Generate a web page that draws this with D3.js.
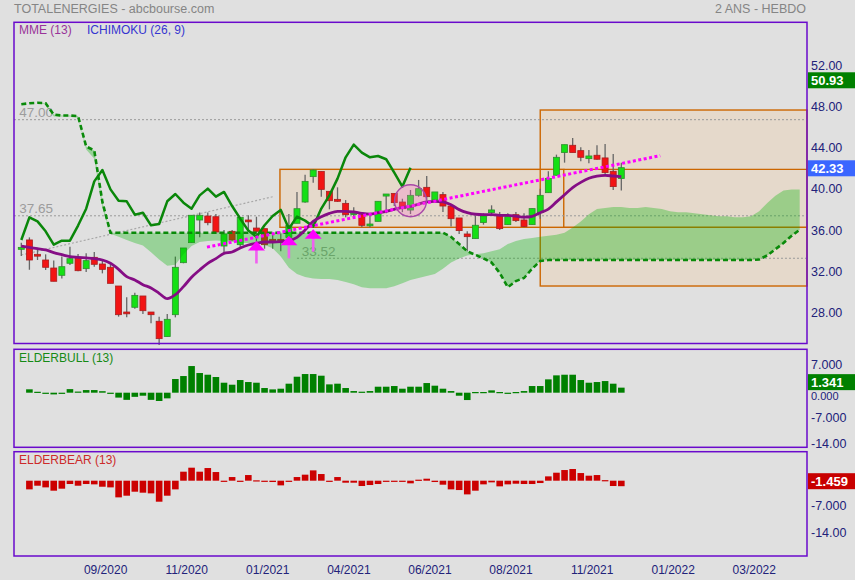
<!DOCTYPE html>
<html><head><meta charset="utf-8">
<script src="https://cdn.jsdelivr.net/npm/d3@7"></script>
<style>
html,body{margin:0;padding:0;background:#e0e0e0;}
svg{display:block;font-family:Arial,"Liberation Sans",sans-serif;}
</style></head><body>
<svg id="c" width="855" height="580"></svg>
<script>
// ---------- DATA ----------
const opens  = [34.39,35.3,33.9,33.35,32.57,31.86,33.03,33.61,32.51,33.61,32.96,32.64,30.82,28.29,28.75,29.85,28.29,27.39,25.9,28.03,33.09,35.04,37.24,37.63,37.56,34.71,36.14,34.84,37.24,36.46,36.4,35.36,35.36,35.55,36.92,38.99,41.46,41.97,40.03,39.25,38.86,37.83,37.76,36.72,37.11,39.57,39.83,38.99,38.21,39.64,40.42,39.19,39.71,38.6,37.44,35.88,35.43,36.99,37.96,37.7,36.79,37.76,37.24,36.79,37.96,39.9,41.59,43.8,44.51,43.99,43.21,43.54,43.28,41.98,41.27];
const highs  = [35.04,35.55,34.33,33.9,33.29,33.68,34.65,33.94,34.0,34.13,33.35,32.96,30.82,29.72,30.17,29.85,28.29,27.84,28.1,33.68,34.52,37.7,37.96,37.96,37.82,36.27,36.27,37.5,37.7,37.56,36.4,35.94,35.9,37.82,39.96,41.65,42.17,41.97,40.03,40.42,39.18,38.47,38.02,37.82,39.06,39.77,39.83,39.31,40.16,41.14,41.53,39.97,39.97,38.6,37.44,36.14,37.63,37.89,38.67,38.02,37.89,38.02,37.89,38.35,40.29,41.98,43.6,44.57,45.22,44.31,44.05,44.51,44.64,43.67,42.82];
const lows   = [33.74,32.4,33.35,32.38,31.28,31.54,32.87,32.25,32.18,32.7,32.05,31.08,27.84,27.77,28.62,28.1,27.19,25.08,25.9,27.77,33.03,35.04,35.56,36.72,35.88,34.0,35.23,34.45,36.3,34.32,34.45,34.45,34.2,33.67,36.92,38.93,40.87,39.51,38.28,39.0,37.5,37.56,36.53,36.5,37.11,37.89,38.6,38.0,37.82,39.5,39.19,39.19,38.02,36.6,35.88,34.2,35.43,36.79,37.7,36.27,36.79,37.05,36.53,36.79,37.37,39.9,41.59,42.82,43.8,42.95,42.76,43.1,41.72,40.16,40.1];
const closes = [34.58,33.35,33.8,32.64,31.28,32.7,33.48,32.31,33.29,32.93,32.44,31.08,28.03,28.16,29.91,28.42,28.03,25.7,27.58,32.64,34.52,37.7,37.7,36.98,36.07,35.88,35.3,37.5,37.11,36.14,34.84,35.23,35.23,36.7,38.34,41.0,42.1,40.22,39.12,39.06,37.76,37.95,36.72,36.85,39.06,39.77,38.93,38.34,39.64,40.29,39.51,39.97,38.6,37.37,36.21,35.62,36.73,37.63,38.22,36.4,37.57,37.18,36.6,38.35,39.64,41.27,43.34,44.57,43.8,43.34,43.47,43.15,41.85,40.49,42.33];
const ema13  = [34.71,34.58,34.45,34.33,34.07,33.87,33.68,33.61,33.55,33.48,33.35,33.03,32.44,31.73,31.41,30.95,30.63,30.11,29.59,29.98,30.76,31.67,32.38,33.03,33.48,34.0,34.13,34.52,34.81,34.97,35.1,35.1,35.13,35.23,35.55,36.27,37.11,37.56,37.89,38.08,38.08,38.02,37.89,37.82,37.95,38.08,38.28,38.47,38.55,38.8,39.0,39.06,39.0,38.72,38.25,37.95,37.8,37.76,37.76,37.7,37.7,37.62,37.52,37.6,37.95,38.3,39.0,39.7,40.4,40.9,41.3,41.5,41.58,41.52,41.46];
const senkouB = [48.5,48.6,48.65,48.6,47.5,47.4,47.4,47.35,44.4,44.0,39.0,
  36.0,36.0,36.0,36.0,36.0,36.0,36.0,36.0,36.0,36.0,36.0,36.0,36.0,36.0,36.0,36.0,36.0,36.0,36.0,36.0,36.0,
  36.0,36.0,36.0,36.0,36.0,36.0,36.0,36.0,36.0,36.0,36.0,36.0,36.0,36.0,36.0,36.0,36.0,36.0,36.0,36.0,36.0,
  35.6,34.9,34.2,33.85,33.5,33.1,32.1,30.7,31.3,31.6,32.5,33.25,
  33.35,33.35,33.35,33.35,33.35,33.35,33.35,33.35,33.35,33.35,33.35,33.35,33.35,33.35,33.35,33.35,33.35,33.35,33.35,33.35,33.35,33.35,33.35,33.35,33.35,33.35,
  33.4,33.8,34.4,35.0,35.7,36.3];
const senkouA = [48.5,48.6,48.65,48.5,47.3,47.3,47.3,47.2,44.1,43.2,38.4,35.9,35.6,35.3,35.0,34.75,34.1,33.4,32.8,32.9,33.9,34.7,35.1,35.2,35.25,35.2,35.1,35.0,35.0,34.95,34.8,34.5,33.7,32.6,32.0,31.7,31.55,31.5,31.5,31.4,31.2,31.0,30.7,30.6,30.6,30.6,30.8,31.1,31.4,31.6,31.8,32.0,32.5,33.1,33.5,33.8,33.9,34.0,34.2,34.4,34.9,35.2,35.4,35.5,35.6,35.7,35.8,36.0,36.5,37.1,37.8,38.3,38.4,38.5,38.5,38.4,38.4,38.5,38.4,38.3,38.1,38.0,38.0,37.9,37.8,37.7,37.6,37.6,37.5,37.5,37.6,38.1,38.9,39.6,40.1,40.2,40.2];
const elderBull = [null,0.9,0.25,-0.25,-0.45,-0.2,0.95,0.3,0.7,0.7,0.4,0,-1.3,-1.9,-1.1,-0.8,-1.9,-2.2,-1.5,3.63,4.42,7.07,5.22,4.77,4.16,2.65,2.12,3.36,2.83,2.65,1.24,0.88,1.06,2.39,4.24,4.95,4.95,4.51,2.21,2.39,1.24,0.44,0.27,0.44,1.59,1.59,1.77,1.06,1.59,1.59,2.56,1.86,1.06,0.44,-0.8,-1.95,0.18,0.18,0.62,0.18,0,0.18,0.44,1.77,1.77,3.54,4.6,4.77,4.77,3.36,2.65,2.83,3.09,2.39,1.341];
const elderBear = [null,-2.3,-1.33,-1.77,-2.65,-2.12,-0.88,-1.33,-0.88,-0.97,-1.6,-1.77,-4.42,-3.98,-2.92,-3.18,-3.36,-5.57,-3.98,-2.3,2.39,3.45,2.39,3.36,2.3,0,0.97,-0.2,1.5,0.1,-0.2,-0.35,-1.24,-0.2,0.97,1.6,2.74,1.77,0,0.97,-0.53,-0.53,-1.41,-1.15,-0.88,-0.18,-0.27,-0.27,-0.7,0.27,0.53,-0.35,-1.06,-2.3,-2.48,-3.63,-2.65,-0.97,-0.44,-1.5,-0.97,-0.8,-0.88,-0.88,-0.62,1.15,2.12,2.83,3.1,2.03,1.33,1.5,0.15,-1.41,-1.459];
const chikouShift = 26;
const priceTicks = [52,48,44,40,36,32,28];
const bullTicks = [7,0,-7,-14];
const bearTicks = [-7,-14];
const xTickIndex = [10,20,30,40,50,60,70,80,90];
const xTickLabels = ["09/2020","11/2020","01/2021","04/2021","06/2021","08/2021","11/2021","01/2022","03/2022"];
const levelValues = [47.00,37.65,33.52];
const levelStart = [-0.9,-0.9,34];
const boxes = [{from:31.9,to:66.9,hi:42.17,lo:36.53},{from:64,to:96.9,hi:47.94,lo:30.82}];
const grayTrend = [[0,33.84],[31,39.5]];
const magentaTrend = [[22.9,34.6],[78.8,43.5]];
const arrowIdx = [29,33,36];
const arrowPrice = [35.2,35.7,36.35];
const circleIdx = 48, circlePrice = 39.11;
const lastMain = 50.93, lastClose = 42.33, lastBull = 1.341, lastBear = -1.459;

// ---------- LAYOUT ----------
const W=855,H=580, PL=14, PR=807;
const mainP={top:22.3,bottom:343.5}, p1={top:349.3,bottom:447.3}, p2={top:451.7,bottom:556};
const svg=d3.select("#c");
svg.append("rect").attr("width",W).attr("height",H).attr("fill","#e0e0e0");

const x=d3.scaleLinear().domain([-0.9,96.9]).range([PL,PR]);
const y=d3.scaleLinear().domain([28,48]).range([315,109.4]);
const yBull=d3.scaleLinear().domain([-14,7]).range([392.7+14*3.77,392.7-7*3.77]);
const yBear=d3.scaleLinear().domain([-14,7]).range([480.7+14*3.77,480.7-7*3.77]);
const idx=d3.range(closes.length);
const axisColor="#22227a";

// ---------- MAIN PANEL ----------
const g=svg.append("g");
boxes.slice().reverse().forEach(b=>{
  g.append("rect").attr("x",x(b.from)).attr("y",y(b.hi)).attr("width",x(b.to)-x(b.from)).attr("height",y(b.lo)-y(b.hi))
   .attr("fill","#e5d9cb");
});
boxes.forEach(b=>{
  g.append("rect").attr("x",x(b.from)).attr("y",y(b.hi)).attr("width",x(b.to)-x(b.from)).attr("height",y(b.lo)-y(b.hi))
   .attr("fill","none").attr("stroke","#cc6600").attr("stroke-width",1.4);
});
[boxes[0].hi,boxes[0].lo].forEach(v=>{
  g.append("line").attr("x1",x(boxes[0].to)).attr("x2",PR).attr("y1",y(v)).attr("y2",y(v))
   .attr("stroke","#cc6600").attr("stroke-width",1.4);
});
levelValues.forEach((v,k)=>{
  g.append("line").attr("x1",x(levelStart[k])).attr("x2",PR).attr("y1",y(v)).attr("y2",y(v))
   .attr("stroke","#999").attr("stroke-width",1).attr("stroke-dasharray","2,2");
  g.append("text").attr("x",x(levelStart[k])+(k==2?4.7:5.3)).attr("y",y(v)-2.3).attr("font-size",13.5)
   .attr("fill","#9c9c9c").text(v.toFixed(2));
});
g.append("line").attr("x1",x(grayTrend[0][0])).attr("y1",y(grayTrend[0][1])).attr("x2",x(grayTrend[1][0])).attr("y2",y(grayTrend[1][1]))
  .attr("stroke","#a8a8a8").attr("stroke-width",1.2).attr("stroke-dasharray","2,2");

const cg=g.append("g");
idx.forEach(i=>{
  const up=closes[i]>=opens[i];
  cg.append("line").attr("x1",x(i)).attr("x2",x(i)).attr("y1",y(highs[i])).attr("y2",y(lows[i]))
    .attr("stroke","#666").attr("stroke-width",1.3);
  const top=y(Math.max(opens[i],closes[i])), bot=y(Math.min(opens[i],closes[i]));
  cg.append("rect").attr("x",x(i)-3).attr("width",6).attr("y",top).attr("height",Math.max(1.8,bot-top))
    .attr("fill",up?"#14e014":"#f21414").attr("stroke",up?"#2e8f2e":"#a82020").attr("stroke-width",0.8);
});

const cidx=d3.range(senkouB.length);
g.append("path").datum(cidx).attr("d",d3.area().x(i=>x(i)).y0(i=>y(senkouA[i])).y1(i=>y(senkouB[i])))
  .attr("fill","#00b400").attr("fill-opacity",0.32);
g.append("path").datum(cidx).attr("d",d3.line().x(i=>x(i)).y(i=>y(senkouB[i])))
  .attr("fill","none").attr("stroke","#0a8a0a").attr("stroke-width",2.6).attr("stroke-dasharray","5,3");
const chIdx=d3.range(closes.length-chikouShift);
g.append("path").datum(chIdx).attr("d",d3.line().x(i=>x(i)).y(i=>y(closes[i+chikouShift])))
  .attr("fill","none").attr("stroke","#0a870a").attr("stroke-width",2.5).attr("stroke-linejoin","round");
g.append("path").datum(idx).attr("d",d3.line().curve(d3.curveMonotoneX).x(i=>x(i)).y(i=>y(ema13[i])))
  .attr("fill","none").attr("stroke","#850d85").attr("stroke-width",2.8);
g.append("line").attr("x1",x(magentaTrend[0][0])).attr("y1",y(magentaTrend[0][1])).attr("x2",x(magentaTrend[1][0])).attr("y2",y(magentaTrend[1][1]))
  .attr("stroke","#ff00ff").attr("stroke-width",3).attr("stroke-dasharray","3,2.5");
arrowIdx.forEach((ai,k)=>{
  const ax=x(ai), ay=y(arrowPrice[k]);
  g.append("line").attr("x1",ax).attr("x2",ax).attr("y1",ay+8).attr("y2",ay+22.5)
    .attr("stroke","#f060f0").attr("stroke-width",2.6);
  g.append("path").attr("d",`M${ax},${ay}L${ax+8.5},${ay+9.5}L${ax-8.5},${ay+9.5}Z`).attr("fill","#ff00ff");
});
g.append("circle").attr("cx",x(circleIdx)).attr("cy",y(circlePrice)).attr("r",16)
  .attr("fill","#ff66cc").attr("fill-opacity",0.25).attr("stroke","#a848a8").attr("stroke-width",1.4);

// ---------- LOWER PANELS ----------
const bw=6.6;
svg.append("g").selectAll("rect").data(idx.filter(i=>elderBull[i]!==null)).join("rect")
  .attr("x",i=>x(i)-bw/2).attr("width",bw)
  .attr("y",i=>Math.min(yBull(0),yBull(elderBull[i]))).attr("height",i=>Math.max(1.2,Math.abs(yBull(elderBull[i])-yBull(0))))
  .attr("fill","#008000");
svg.append("g").selectAll("rect").data(idx.filter(i=>elderBear[i]!==null)).join("rect")
  .attr("x",i=>x(i)-bw/2).attr("width",bw)
  .attr("y",i=>Math.min(yBear(0),yBear(elderBear[i]))).attr("height",i=>Math.max(1.2,Math.abs(yBear(elderBear[i])-yBear(0))))
  .attr("fill","#cc0000");

// ---------- PANEL BORDERS ----------
[mainP,p1,p2].forEach(p=>{
  svg.append("rect").attr("x",PL).attr("y",p.top).attr("width",PR-PL).attr("height",p.bottom-p.top)
    .attr("fill","none").attr("stroke","#6a0acc").attr("stroke-width",1.5);
});

// ---------- AXES TEXT ----------
const ax=svg.append("g").attr("font-size",12.5).attr("fill",axisColor);
priceTicks.forEach(v=>ax.append("text").attr("x",811).attr("y",y(v)+1.8).text(v.toFixed(2)));
const fmt=v=>v===0?"0.000":(Math.abs(v)>=10?v.toFixed(2):v.toFixed(3));
bullTicks.forEach(v=>ax.append("text").attr("x",811).attr("y",yBull(v)+(v===0?7.5:2.7)).attr("font-size",v===0?11:12.5).text(fmt(v)));
bearTicks.forEach(v=>ax.append("text").attr("x",811).attr("y",yBear(v)+3.3).text(fmt(v)));
xTickIndex.forEach((ti,k)=>ax.append("text").attr("x",x(ti+0.4)).attr("y",574).attr("text-anchor","middle").attr("font-size",12).text(xTickLabels[k]));

function valBox(cy,color,txt){
  svg.append("rect").attr("x",808).attr("y",cy-8).attr("width",47).attr("height",16).attr("fill",color);
  svg.append("text").attr("x",811).attr("y",cy+4.5).attr("font-size",13).attr("font-weight","bold").attr("fill","#fff").text(txt);
}
valBox(y(lastMain)+1,"#008000",lastMain.toFixed(2));
valBox(y(lastClose)+0.6,"#3a66ff",lastClose.toFixed(2));
valBox(yBull(lastBull)-5.5,"#008000",lastBull.toFixed(3));
valBox(yBear(lastBear)-5,"#c80000",lastBear.toFixed(3));

svg.append("text").attr("x",14).attr("y",12.8).attr("font-size",12.5).attr("fill","#858585").text("TOTALENERGIES - abcbourse.com");
svg.append("text").attr("x",806).attr("y",12.8).attr("font-size",12.5).attr("fill","#858585").attr("text-anchor","end").text("2 ANS - HEBDO");
svg.append("text").attr("x",19).attr("y",33.5).attr("font-size",12).attr("fill","#993399").text("MME (13)");
svg.append("text").attr("x",87).attr("y",33.5).attr("font-size",12).attr("fill","#3535d0").text("ICHIMOKU (26, 9)");
svg.append("text").attr("x",19).attr("y",361.5).attr("font-size",12).attr("fill","#158a15").text("ELDERBULL (13)");
svg.append("text").attr("x",19).attr("y",464).attr("font-size",12).attr("fill","#cc2a2a").text("ELDERBEAR (13)");
</script>
</body></html>
